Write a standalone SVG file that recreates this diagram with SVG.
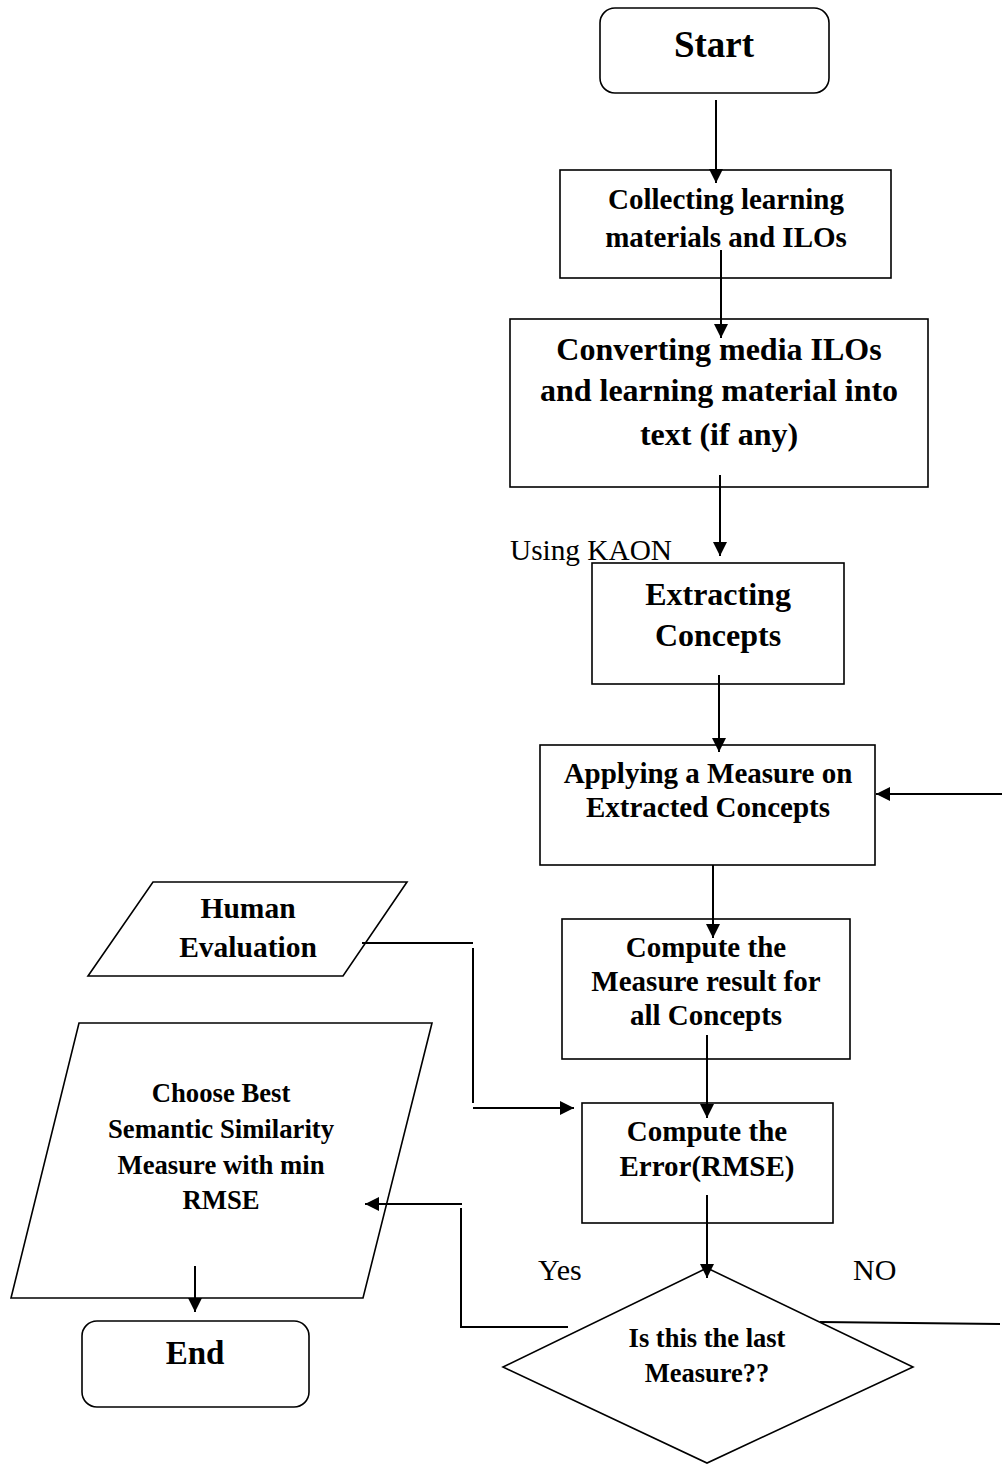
<svg xmlns="http://www.w3.org/2000/svg" width="1002" height="1465" viewBox="0 0 1002 1465">
<style>
.box{fill:#fff;stroke:#000;stroke-width:1.6}
.t{font-family:"Liberation Serif","Times New Roman",serif;font-weight:bold;fill:#000;text-anchor:middle}
.r{font-family:"Liberation Serif","Times New Roman",serif;fill:#000}
.c{fill:none;stroke:#000;stroke-width:2}
</style>
<defs>
<marker id="ah" markerUnits="userSpaceOnUse" markerWidth="14" markerHeight="14" viewBox="0 0 14 14" refX="14" refY="7" orient="auto">
<path d="M0,0 L14,7 L0,14 Z" fill="#000"/>
</marker>
</defs>
<g id="start"><rect class="box" x="600" y="8" width="229" height="85" rx="15"/><text class="t" x="714" y="57" font-size="37">Start</text></g>
<g id="collect"><rect class="box" x="560" y="170" width="331" height="108"/><text class="t" font-size="29"><tspan x="726" y="209">Collecting learning</tspan><tspan x="726" y="247">materials and ILOs</tspan></text></g>
<g id="convert"><rect class="box" x="510" y="319" width="418" height="168"/><text class="t" font-size="32"><tspan x="719" y="360">Converting media ILOs</tspan><tspan x="719" y="401">and learning material into</tspan><tspan x="719" y="445">text (if any)</tspan></text></g>
<g id="extract"><rect class="box" x="592" y="563" width="252" height="121"/><text class="t" font-size="32"><tspan x="718" y="605">Extracting</tspan><tspan x="718" y="646">Concepts</tspan></text></g>
<g id="apply"><rect class="box" x="540" y="745" width="335" height="120"/><text class="t" font-size="29"><tspan x="708" y="783">Applying a Measure on</tspan><tspan x="708" y="817">Extracted Concepts</tspan></text></g>
<g id="compute1"><rect class="box" x="562" y="919" width="288" height="140"/><text class="t" font-size="29"><tspan x="706" y="957">Compute the</tspan><tspan x="706" y="991">Measure result for</tspan><tspan x="706" y="1025">all Concepts</tspan></text></g>
<g id="compute2"><rect class="box" x="582" y="1103" width="251" height="120"/><text class="t" font-size="29"><tspan x="707" y="1141">Compute the</tspan><tspan x="707" y="1176">Error(RMSE)</tspan></text></g>
<g id="decision"><polygon class="box" points="707,1268 913,1367 707,1463 503,1367"/><text class="t" font-size="26.5"><tspan x="707" y="1347">Is this the last</tspan><tspan x="707" y="1382">Measure??</tspan></text></g>
<g id="human"><polygon class="box" points="153,882 407,882 343,976 88,976"/><text class="t" font-size="29.5"><tspan x="248" y="918">Human</tspan><tspan x="248" y="957">Evaluation</tspan></text></g>
<g id="choose"><polygon class="box" points="79,1023 432,1023 363,1298 11,1298"/><text class="t" font-size="26.7"><tspan x="221" y="1102">Choose Best</tspan><tspan x="221" y="1138">Semantic Similarity</tspan><tspan x="221" y="1174">Measure with min</tspan><tspan x="221" y="1209">RMSE</tspan></text></g>
<g id="end"><rect class="box" x="82" y="1321" width="227" height="86" rx="15"/><text class="t" x="195" y="1364" font-size="33">End</text></g>
<g id="labels">
<text class="r" x="510" y="560" font-size="29.3">Using KAON</text>
<text class="r" x="538" y="1280" font-size="30">Yes</text>
<text class="r" x="853" y="1280" font-size="30">NO</text>
</g>
<g id="connectors">
<path class="c" d="M716,100 L716,183" marker-end="url(#ah)"/>
<path class="c" d="M721,250 L721,338" marker-end="url(#ah)"/>
<path class="c" d="M720,475 L720,556" marker-end="url(#ah)"/>
<path class="c" d="M719,675 L719,752" marker-end="url(#ah)"/>
<path class="c" d="M1002,794 L876,794" marker-end="url(#ah)"/>
<path class="c" d="M713,865 L713,938" marker-end="url(#ah)"/>
<path class="c" d="M707,1035 L707,1118" marker-end="url(#ah)"/>
<path class="c" d="M707,1195 L707,1278" marker-end="url(#ah)"/>
<path class="c" d="M820,1322 L1000,1324"/>
<path class="c" d="M568,1327 L461,1327 L461,1208"/>
<path class="c" d="M462,1204 L365,1204" marker-end="url(#ah)"/>
<path class="c" d="M362,943 L473,943"/>
<path class="c" d="M473,948 L473,1103"/>
<path class="c" d="M473,1108 L574,1108" marker-end="url(#ah)"/>
<path class="c" d="M195,1266 L195,1312" marker-end="url(#ah)"/>
</g>
</svg>
